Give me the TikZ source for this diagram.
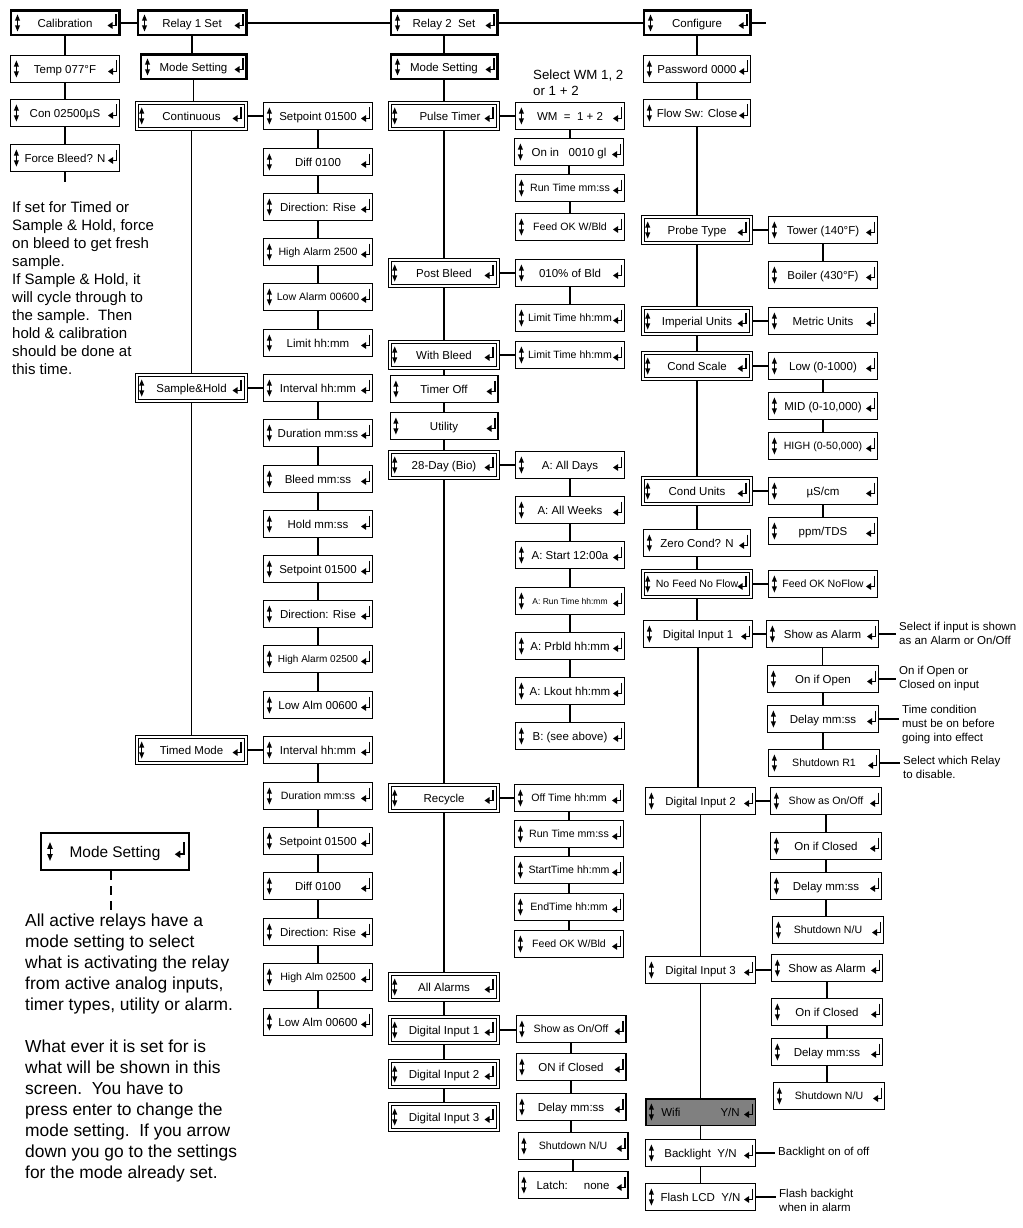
\documentclass[tikz,border=0pt]{standalone}
\usepackage{fontspec}
\setmainfont{Liberation Sans}
\usetikzlibrary{calc}
\definecolor{wifigray}{RGB}{128,128,128}
\tikzset{
 box/.style={draw, line width=1.2pt, outer sep=0.6pt, inner sep=0pt, minimum height=26.8pt, fill=white, text height=8.2pt, text depth=0pt, font=\fontsize{11.5}{13}\selectfont},
 conn/.style={line width=1.4pt},
 sm/.style={font=\fontsize{10.6}{12}\selectfont, text height=7.6pt},
 xs/.style={font=\fontsize{8.5}{10}\selectfont, text height=6.1pt},
 wifi/.style={fill=wifigray, line width=1.8pt},
 note/.style={inner xsep=3pt, inner ysep=0pt, align=left, font=\fontsize{11.5}{14}\selectfont},
}
\newcommand{\glyphs}[4]{%
 \begin{scope}[shift={(#1.west)},x=1pt,y=1pt,xshift=#2pt,scale=#4]
  \fill (0,8.5) -- (-2.6,2.3) -- (2.6,2.3) -- cycle;
  \fill (0,-8.5) -- (-2.6,-2.3) -- (2.6,-2.3) -- cycle;
  \draw[line width=0.7pt] (0,3) -- (0,-3);
 \end{scope}
 \begin{scope}[shift={(#1.east)},x=1pt,y=1pt,xshift=-#3pt,scale=#4]
  \draw[line width=1.7pt] (-3.6,8.5) -- (-3.6,-2.5) -- (-7.5,-2.5);
  \fill (-12,-2.5) -- (-7,0.9) -- (-7,-5.9) -- cycle;
 \end{scope}}
\newcommand{\bx}[6][]{\node[box,#1,minimum width=#5-1.2] (#2) at (#3,#4) {#6};\glyphs{#2}{6.4}{0}{1}}
\newcommand{\tbx}[6][]{\node[box,line width=2.4pt,outer sep=1.2pt,minimum height=24.6pt,#1,minimum width=#5-2.4] (#2) at (#3,#4) {#6};\glyphs{#2}{8}{1}{1}}
\newcommand{\dbx}[6][]{\node[box,double,line width=1pt,double distance=2pt,outer sep=2pt,minimum height=26pt,#1,minimum width=#5-4] (#2) at (#3,#4) {#6};\glyphs{#2}{6.7}{3.5}{1}}
\begin{document}
\begin{tikzpicture}[x=1pt,y=-1pt]
\useasboundingbox (0,0) rectangle (1022,1228);
% ---------- column 1
\tbx{cal}{65}{23}{111}{Calibration}
\bx{temp}{65}{69}{110}{Temp 077°F\hspace{3pt}}
\bx{con}{65}{113}{110}{Con 02500µS\hspace{8pt}}
\bx{force}{65}{158}{110}{Force Bleed? N}
\coordinate (calstub) at (65,182);
\node[anchor=north west, inner sep=0pt, align=left, font=\fontsize{15}{18}\selectfont] (calnote) at (12,201.5)
 {If set for Timed or\\Sample \& Hold, force\\on bleed to get fresh\\sample.\\If Sample \& Hold, it\\will cycle through to\\the sample.\ \ Then\\hold \& calibration\\should be done at\\this time.};
% ---------- column 2
\tbx{rel1}{192}{23}{111}{Relay 1 Set}
\tbx{mode1}{193.5}{67}{108}{Mode Setting\hspace{13pt}}
\dbx{cont}{191.5}{116}{113}{Continuous}
\dbx{sah}{191.5}{388}{113}{Sample\&Hold}
\dbx{timed}{191.5}{750}{113}{Timed Mode}
% ---------- column 3
\bx{r1a}{318}{116}{110}{Setpoint 01500}
\bx{r1b}{318}{162}{110}{Diff 0100}
\bx{r1c}{318}{207}{110}{Direction: Rise}
\bx[sm]{r1d}{318}{252}{110}{High Alarm 2500}
\bx[sm]{r1e}{318}{297}{110}{Low Alarm 00600}
\bx{r1f}{318}{343}{110}{Limit hh:mm}
\bx{r1g}{318}{388}{110}{Interval hh:mm}
\bx{r1h}{318}{433}{110}{Duration mm:ss}
\bx{r1i}{318}{479}{110}{Bleed mm:ss}
\bx{r1j}{318}{524}{110}{Hold mm:ss}
\bx{r1k}{318}{569}{110}{Setpoint 01500}
\bx{r1l}{318}{614}{110}{Direction: Rise}
\bx[sm,font=\fontsize{10}{12}\selectfont]{r1m}{318}{659}{110}{High Alarm 02500}
\bx{r1n}{318}{705}{110}{Low Alm 00600}
\bx{r1o}{318}{750}{110}{Interval hh:mm}
\bx[sm]{r1p}{318}{796}{110}{Duration mm:ss}
\bx{r1q}{318}{841}{110}{Setpoint 01500}
\bx{r1r}{318}{886}{110}{Diff 0100}
\bx{r1s}{318}{932}{110}{Direction: Rise}
\bx[sm]{r1t}{318}{977}{110}{High Alm 02500}
\bx{r1u}{318}{1022}{110}{Low Alm 00600}
% ---------- column 4
\tbx{rel2}{444}{23}{109}{Relay 2\ \ Set}
\tbx{mode2}{444}{67}{109}{Mode Setting\hspace{13pt}}
\dbx{pulse}{444}{116}{112}{\hspace{12pt}Pulse Timer}
\dbx{post}{444}{273}{112}{Post Bleed}
\dbx{withb}{444}{355}{112}{With Bleed}
\bx{toff}{444}{389}{109}{Timer Off}
\bx{util}{444}{426}{109}{Utility}
\dbx{bio}{444}{465}{112}{28-Day (Bio)}
\dbx{recyc}{444}{798}{112}{Recycle}
\dbx{allal}{444}{987}{112}{All Alarms}
\dbx{rdi1}{444}{1030}{112}{Digital Input 1}
\dbx{rdi2}{444}{1074}{112}{Digital Input 2}
\dbx{rdi3}{444}{1117}{112}{Digital Input 3}
% ---------- column 5
\node[anchor=north west, inner sep=0pt, align=left, font=\fontsize{13.3}{16}\selectfont] (wmnote) at (533,70) {Select WM 1, 2\\or 1 + 2};
\bx{wm}{570}{116}{110}{WM\ \ =\ \ 1 + 2\hspace{9pt}}
\bx{onin}{569}{152}{110}{On in\ \ \ 0010 gl}
\bx[sm]{runa}{570}{188}{110}{Run Time mm:ss}
\bx[sm]{feeda}{570}{227}{110}{Feed OK W/Bld}
\bx{pct}{570}{273}{110}{010\% of Bld}
\bx[sm]{lima}{570}{318}{110}{Limit Time hh:mm}
\bx[sm]{limb}{570}{355}{110}{Limit Time hh:mm}
\bx{ad}{570}{465}{110}{A: All Days}
\bx{aw}{570}{510}{110}{A: All Weeks}
\bx{ast}{570}{555}{110}{A: Start 12:00a}
\bx[xs]{art}{570}{601}{110}{A: Run Time hh:mm}
\bx{apr}{570}{646}{110}{A: Prbld hh:mm}
\bx{alk}{570}{691}{110}{A: Lkout hh:mm}
\bx{bsee}{570}{736}{110}{B: (see above)}
\bx[sm]{offt}{569}{798}{110}{Off Time hh:mm}
\bx[sm]{runb}{569}{834}{110}{Run Time mm:ss}
\bx[sm]{stt}{569}{870}{110}{StartTime hh:mm}
\bx[sm]{endt}{569}{907}{110}{EndTime hh:mm}
\bx[sm]{feedb}{569}{944}{110}{Feed OK W/Bld}
\bx[sm]{son}{571}{1029}{111}{Show as On/Off}
\bx{oncl}{571}{1067}{111}{ON if Closed}
\bx{dly}{571}{1107}{111}{Delay mm:ss}
\bx[sm]{shd}{573}{1146}{111}{Shutdown N/U}
\bx{latch}{573}{1185}{111}{Latch:\ \ \ \ \ none}
% ---------- column 6
\tbx{conf}{697}{23}{109}{Configure}
\bx{pwd}{697}{69}{108}{Password 0000}
\bx{flow}{697}{113}{108}{Flow Sw: Close}
\dbx{probe}{697}{230}{112}{Probe Type}
\dbx{imp}{697}{321}{112}{Imperial Units}
\dbx{cscale}{697}{366}{112}{Cond Scale}
\dbx{cunits}{697}{491}{112}{Cond Units}
\bx{zero}{697}{543}{108}{Zero Cond? N}
\dbx[sm]{nofeed}{697}{584}{112}{No Feed No Flow}
\bx{cdi1}{698}{634}{110}{Digital Input 1\hspace{14pt}}
\bx{cdi2}{700.5}{801}{111}{Digital Input 2\hspace{12pt}}
\bx{cdi3}{700.5}{970}{111}{Digital Input 3\hspace{12pt}}
\bx[wifi]{wifi}{700.5}{1112}{111}{Wifi\hspace{40pt}Y/N\hspace{8pt}}
\bx{back}{700.5}{1153}{111}{Backlight\ \ Y/N\hspace{6pt}}
\bx{flash}{700.5}{1197}{111}{Flash LCD\ \ Y/N}
\coordinate (confstub) at (766,23);
% ---------- column 7
\bx{tower}{823}{230}{110}{Tower (140°F)}
\bx{boiler}{823}{275}{110}{Boiler (430°F)}
\bx{metric}{823}{321}{110}{Metric Units}
\bx{low}{823}{366}{110}{Low (0-1000)}
\bx{mid}{823}{406}{110}{MID (0-10,000)}
\bx[sm]{high}{823}{446}{110}{HIGH (0-50,000)}
\bx{uscm}{823}{491}{110}{µS/cm}
\bx{ppm}{823}{531}{110}{ppm/TDS}
\bx[sm]{feedno}{823}{584}{110}{Feed OK NoFlow}
\bx{sal1}{822.5}{634}{113}{Show as Alarm}
\bx{onop}{823}{679}{112}{On if Open}
\bx{dl1}{823}{719}{112}{Delay mm:ss}
\bx[sm]{sr1}{824}{763}{112}{Shutdown R1}
\bx[sm]{so2}{826}{801}{112}{Show as On/Off}
\bx{oc2}{826}{846}{112}{On if Closed}
\bx{dl2}{826}{886}{112}{Delay mm:ss}
\bx[sm]{sn2}{828}{930}{112}{Shutdown N/U}
\bx{sa3}{827}{968}{112}{Show as Alarm}
\bx{oc3}{827}{1012}{112}{On if Closed}
\bx{dl3}{827}{1052}{112}{Delay mm:ss}
\bx[sm]{sn3}{829}{1096}{112}{Shutdown N/U}
% ---------- notes on the right
\node[note, anchor=north west] (n1) at (896,622) {Select if input is shown\\as an Alarm or On/Off};
\node[note, anchor=north west] (n2) at (896,666) {On if Open or\\Closed on input};
\node[note, anchor=north west] (n3) at (899,705) {Time condition\\must be on before\\going into effect};
\node[note, anchor=north west] (n4) at (900,756) {Select which Relay\\to disable.};
\node[note, anchor=west] (n5) at (775,1153) {Backlight on of off};
\node[note, anchor=north west] (n6) at (776,1189) {Flash backight\\when in alarm};
% ---------- legend
\node[box, line width=2.4pt, outer sep=1.2pt, minimum width=147.6, minimum height=36.6, text height=11pt, font=\fontsize{15.4}{18}\selectfont] (mleg) at (115,851.5) {Mode Setting};
\glyphs{mleg}{10}{2}{1.1}
\coordinate (dashend) at (111,914);
\node[anchor=north west, inner sep=0pt, align=left, font=\fontsize{17.4}{21}\selectfont] (legnote) at (25,913.5)
 {All active relays have a\\mode setting to select\\what is activating the relay\\from active analog inputs,\\timer types, utility or alarm.\\[21pt]What ever it is set for is\\what will be shown in this\\screen.\ \ You have to\\press enter to change the\\mode setting.\ \ If you arrow\\down you go to the settings\\for the mode already set.};
% ---------- connectors
\draw[conn] (cal.east) -- (rel1.west);
\draw[conn] (rel1.east) -- (rel2.west);
\draw[conn] (rel2.east) -- (conf.west);
\draw[line width=2.6pt] (conf.east) -- (confstub);
\draw[conn] (force.south) -- (calstub);
\draw[line width=1.2pt, dash pattern=on 9pt off 6pt] (mleg.south -| dashend) -- (dashend);
\foreach \a/\b in {cont/r1a, sah/r1g, timed/r1o, pulse/wm, post/pct, withb/limb, bio/ad, recyc/offt, rdi1/son,
  probe/tower, imp/metric, cscale/low, cunits/uscm, nofeed/feedno, cdi1/sal1, cdi2/so2, cdi3/sa3,
  sal1/n1, onop/n2, dl1/n3, sr1/n4, back/n5}
  \draw[conn] (\a.east) -- (\a.east -| \b.west);
\draw[conn] (flash.east) -- (flash.east -| n6.west);
\foreach \a/\b in {cal/temp, temp/con, con/force,
  rel1/mode1, mode1/cont, cont/sah, sah/timed,
  r1a/r1b, r1b/r1c, r1c/r1d, r1d/r1e, r1e/r1f,
  r1g/r1h, r1h/r1i, r1i/r1j, r1j/r1k, r1k/r1l, r1l/r1m, r1m/r1n,
  r1o/r1p, r1p/r1q, r1q/r1r, r1r/r1s, r1s/r1t, r1t/r1u,
  rel2/mode2, mode2/pulse, pulse/post, post/withb, withb/toff, toff/util, util/bio, bio/recyc, recyc/allal, allal/rdi1, rdi1/rdi2, rdi2/rdi3,
  wm/onin, onin/runa, runa/feeda, pct/lima,
  ad/aw, aw/ast, ast/art, art/apr, apr/alk, alk/bsee,
  offt/runb, runb/stt, stt/endt, endt/feedb,
  son/oncl, oncl/dly, dly/shd, shd/latch,
  conf/pwd, pwd/flow, flow/probe, probe/imp, imp/cscale, cscale/cunits, cunits/zero, zero/nofeed, nofeed/cdi1, cdi1/cdi2, cdi2/cdi3, cdi3/wifi, wifi/back, back/flash,
  tower/boiler, low/mid, mid/high, uscm/ppm,
  sal1/onop, onop/dl1, dl1/sr1, so2/oc2, oc2/dl2, dl2/sn2, sa3/oc3, oc3/dl3, dl3/sn3}
  \draw[conn] (\a.south) -- (\a.south |- \b.north);
\end{tikzpicture}
\end{document}
